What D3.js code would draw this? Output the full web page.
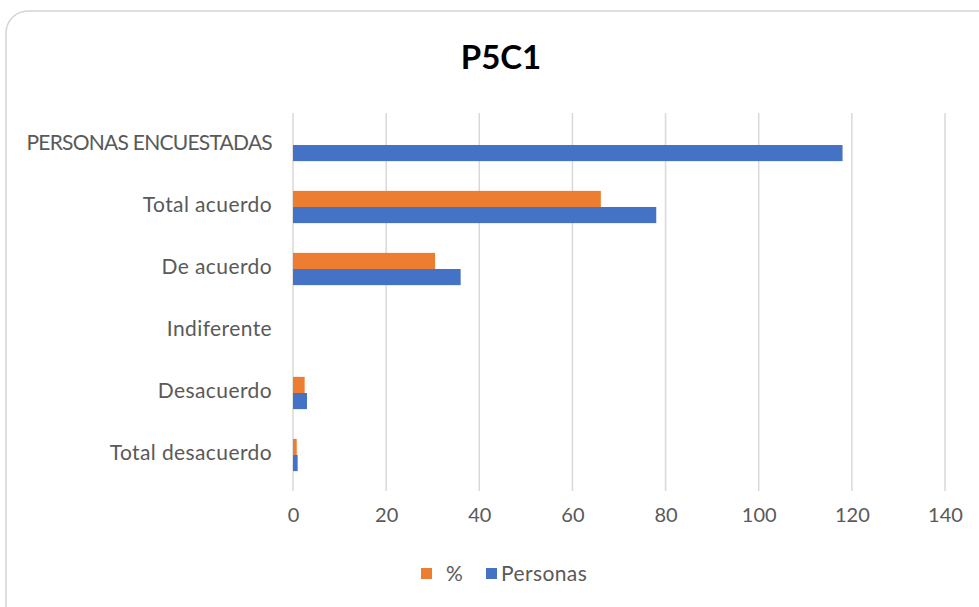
<!DOCTYPE html>
<html>
<head>
<meta charset="utf-8">
<script src="https://cdn.jsdelivr.net/npm/d3@7"></script>
<style>
  body { margin: 0; background: #fff; }
  svg { display: block; }
  .axis text, .cat text { font-family: Lato, "Liberation Sans", sans-serif; fill: #595959; }
</style>
</head>
<body>
<svg id="chart" width="979" height="607"></svg>
<script>
// categories from top to bottom
const categories = ['PERSONAS ENCUESTADAS', 'Total acuerdo', 'De acuerdo', 'Indiferente', 'Desacuerdo', 'Total desacuerdo'];
const pct = [null, 66.1, 30.5, 0, 2.5, 0.8];
const personas = [118, 78, 36, 0, 3, 1];
const xTicks = [0, 20, 40, 60, 80, 100, 120, 140];
const seriesNames = ['%', 'Personas'];
const colors = ['#ED7D31', '#4472C4'];

const margin = {top: 114, right: 34, bottom: 121, left: 293};
const W = 979, H = 607;

var svg = d3.select('#chart');

// card
svg.append('rect')
  .attr('x', 6).attr('y', 11)
  .attr('width', 1000).attr('height', 620)
  .attr('rx', 22)
  .attr('fill', '#fff')
  .attr('stroke', '#d4d4d4')
  .attr('stroke-width', 1.5);

// title
svg.append('text')
  .attr('x', 501).attr('y', 69)
  .attr('text-anchor', 'middle')
  .style('font-family', 'Lato, "Liberation Sans", sans-serif')
  .style('font-weight', 'bold')
  .style('font-size', '33px')
  .attr('fill', '#000')
  .text('P5C1');

var xScale = d3.scaleLinear().domain([0, 140]).range([margin.left, 945]);
var yScale = d3.scaleBand().domain(categories).range([margin.top, H - margin.bottom]).paddingInner(0.48).paddingOuter(0.24);
var sub = d3.scaleBand().domain(seriesNames).range([0, yScale.bandwidth()]);

// gridlines
svg.append('g')
  .selectAll('line')
  .data(xTicks)
  .enter().append('line')
    .attr('x1', function(d) { return xScale(d); })
    .attr('x2', function(d) { return xScale(d); })
    .attr('y1', margin.top - 1)
    .attr('y2', H - margin.bottom + 5)
    .attr('stroke', '#d9d9d9')
    .attr('stroke-width', 1.5);

// x axis labels
var xAxis = d3.axisBottom(xScale).tickValues(xTicks).tickSize(0).tickPadding(0);
var gx = svg.append('g')
  .attr('class', 'axis')
  .attr('transform', 'translate(0,' + 508 + ')')
  .call(xAxis);
gx.select('.domain').remove();
gx.selectAll('text').style('font-size', '20px');

// category labels
var yAxis = d3.axisLeft(yScale).tickSize(0).tickPadding(0);
var gy = svg.append('g')
  .attr('class', 'cat')
  .attr('transform', 'translate(272,0)')
  .call(yAxis);
gy.select('.domain').remove();
gy.selectAll('text')
  .style('font-size', '21px')
  .style('letter-spacing', function(d) { return d === d.toUpperCase() ? '-0.75px' : '0.4px'; })
  .attr('dy', '0.22em');

// bars
var rows = categories.map(function(c, i) {
  return {cat: c, values: [pct[i], personas[i]]};
});
var grp = svg.append('g').selectAll('g')
  .data(rows)
  .enter().append('g')
    .attr('transform', function(d) { return 'translate(0,' + yScale(d.cat) + ')'; });

grp.selectAll('rect')
  .data(function(d) { return d.values.map(function(v, j) { return {v: v, s: seriesNames[j], c: colors[j]}; }); })
  .enter().filter(function(d) { return d.v; }).append('rect')
    .attr('x', xScale(0))
    .attr('y', function(d) { return sub(d.s); })
    .attr('width', function(d) { return xScale(d.v) - xScale(0); })
    .attr('height', sub.bandwidth())
    .attr('fill', function(d) { return d.c; });

// legend
var legendX = [421, 486];
var lg = svg.append('g').selectAll('g')
  .data(seriesNames)
  .enter().append('g')
    .attr('transform', function(d, i) { return 'translate(' + legendX[i] + ',568)'; });
lg.append('rect').attr('width', 11).attr('height', 11)
  .attr('fill', function(d, i) { return colors[i]; });
lg.append('text')
  .attr('x', function(d, i) { return i == 0 ? 25 : 15; })
  .attr('y', 13)
  .style('font-family', 'Lato, "Liberation Sans", sans-serif')
  .style('font-size', '21px')
  .style('letter-spacing', '0.4px')
  .attr('fill', '#595959')
  .text(function(d) { return d; });
</script>
</body>
</html>
